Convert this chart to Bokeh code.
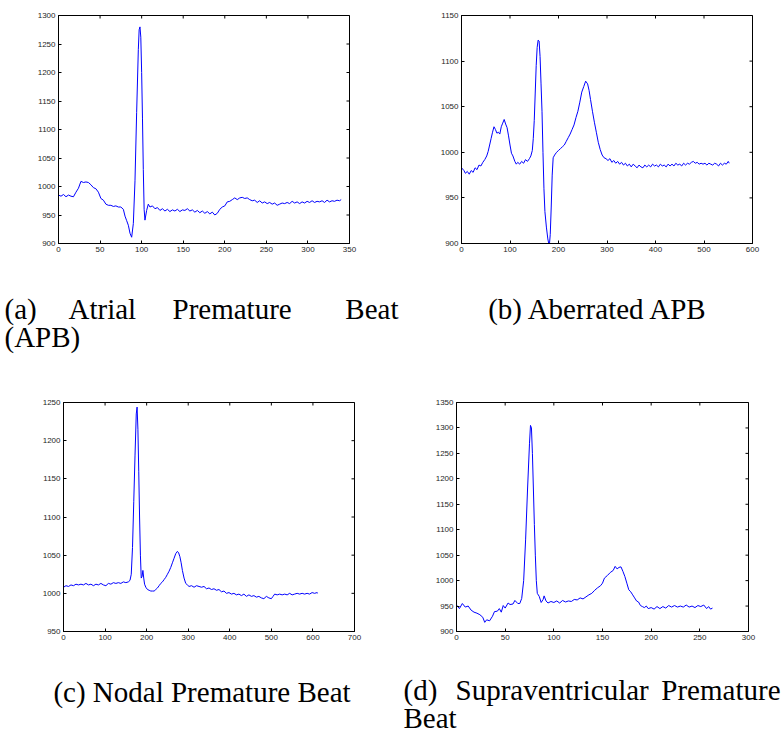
import math
from bokeh.plotting import figure
from bokeh.models import Range1d, FixedTicker
from bokeh.layouts import column, row
from bokeh.embed import file_html
from bokeh.resources import INLINE
from bokeh.core.properties import value

# ---------------- data ----------------
a_x = [0, 3, 6, 9, 12, 15, 18, 21, 24, 27, 30, 33, 36, 39, 42, 45, 48, 51, 54, 57, 60, 63, 66, 69, 72, 75, 78,
       80, 82, 84, 86, 88, 90, 92, 94, 96, 97, 98, 99, 100, 101, 102, 103, 104, 106, 108, 110, 113, 116, 119,
       122, 125, 128, 131, 134, 137, 140, 143, 146, 149, 152, 155, 158, 161, 164, 167, 170, 173, 176, 179, 182,
       185, 188, 191, 194, 197, 200, 203, 206, 209, 212, 215, 218, 221, 224, 227, 230, 233, 236, 239, 242, 245,
       248, 251, 254, 257, 260, 263, 266, 269, 272, 275, 278, 281, 284, 287, 290, 293, 296, 299, 302, 305, 308,
       311, 314, 317, 320, 323, 326, 329, 332, 335, 338, 340]
a_y = [985, 983, 986, 982, 985, 983, 982, 990, 997, 1009, 1007, 1008, 1007, 1003, 998, 996, 990, 979, 976, 969,
       967, 967, 965, 966, 964, 964, 960, 948, 940, 932, 918, 911, 935, 1010, 1130, 1240, 1275, 1280, 1262,
       1200, 1120, 1030, 960, 941, 958, 969, 964, 966, 961, 963, 958, 961, 957, 960, 956, 959, 957, 960, 956,
       959, 958, 961, 957, 959, 955, 958, 954, 957, 953, 956, 952, 955, 950, 953, 960, 964, 966, 973, 974, 977,
       980, 977, 980, 981, 979, 980, 977, 975, 976, 972, 975, 971, 973, 970, 972, 969, 971, 967, 969, 971, 970,
       972, 970, 974, 971, 973, 970, 973, 971, 974, 972, 975, 972, 974, 973, 975, 972, 976, 973, 975, 974, 976,
       975, 977]

b_x = [0, 5, 8, 12, 16, 20, 24, 28, 32, 36, 40, 44, 48, 52, 55, 58, 61, 64, 67, 70, 73, 76, 79, 82, 85, 88, 91,
       94, 97, 100, 103, 106, 110, 113, 116, 120, 124, 128, 132, 136, 140, 143, 146, 148, 150, 152, 154, 156,
       158, 160, 162, 164, 166, 168, 170, 172, 175, 178, 181, 183, 185, 187, 189, 192, 196, 200, 204, 208, 212,
       216, 220, 224, 228, 232, 236, 240, 244, 248, 252, 256, 260, 263, 266, 270, 274, 278, 282, 286, 290, 294,
       298, 302, 306, 310, 314, 318, 322, 326, 330, 334, 338, 342, 346, 350, 354, 358, 362, 366, 370, 374, 378,
       382, 386, 390, 394, 398, 402, 406, 410, 414, 418, 422, 426, 430, 434, 438, 442, 446, 450, 454, 458, 462,
       466, 470, 474, 478, 482, 486, 490, 494, 498, 502, 506, 510, 514, 518, 522, 526, 530, 534, 538, 542, 546,
       550, 552]
b_y = [983, 980, 977, 979, 976, 980, 978, 983, 981, 986, 985, 989, 992, 996, 1001, 1008, 1015, 1022, 1028,
       1025, 1021, 1022, 1020, 1028, 1032, 1036, 1031, 1027, 1018, 1008, 999, 996, 990, 987, 989, 987, 990,
       988, 992, 990, 993, 996, 1002, 1015, 1035, 1065, 1095, 1115, 1123, 1122, 1105, 1075, 1045, 1000, 960,
       935, 918, 905, 897, 910, 940, 975, 994, 997, 1000, 1002, 1004, 1006, 1008, 1012, 1016, 1020, 1025,
       1030, 1038, 1045, 1055, 1066, 1072, 1078, 1075, 1068, 1058, 1045, 1033, 1022, 1011, 1003, 997, 994,
       993, 991, 993, 989, 991, 988, 990, 987, 989, 986, 988, 985, 987, 984, 987, 985, 983, 986, 984, 983,
       986, 984, 986, 984, 987, 985, 986, 984, 987, 985, 986, 984, 987, 985, 987, 985, 988, 986, 987, 985,
       988, 986, 988, 987, 989, 990, 988, 989, 987, 988, 987, 988, 986, 988, 987, 986, 988, 987, 985, 988,
       986, 988, 987, 990, 988]

c_x = [0, 6, 12, 18, 24, 30, 36, 42, 48, 54, 60, 66, 72, 78, 84, 90, 96, 102, 108, 114, 120, 126, 132, 138,
       144, 150, 156, 160, 163, 166, 169, 172, 175, 177, 179, 181, 183, 185, 187, 189, 191, 193, 195, 198, 202,
       206, 210, 214, 218, 222, 226, 230, 234, 238, 242, 246, 250, 254, 258, 262, 266, 270, 274, 277, 280, 283,
       286, 290, 294, 298, 302, 308, 314, 320, 326, 332, 338, 344, 350, 356, 362, 368, 374, 380, 386, 392, 398,
       404, 410, 416, 422, 428, 434, 440, 446, 452, 458, 464, 470, 476, 482, 488, 494, 500, 504, 508, 514, 520,
       526, 532, 538, 544, 550, 556, 562, 568, 574, 580, 586, 592, 598, 604, 610, 612]
c_y = [1008, 1010, 1009, 1011, 1010, 1012, 1011, 1012, 1011, 1013, 1011, 1012, 1010, 1012, 1011, 1013, 1011,
       1010, 1013, 1012, 1014, 1013, 1014, 1013, 1015, 1014, 1015, 1017, 1025, 1060, 1120, 1180, 1235, 1244,
       1215, 1160, 1100, 1050, 1020, 1022, 1030, 1020, 1012, 1008, 1005, 1004, 1003, 1003, 1003, 1005, 1007,
       1010, 1013, 1015, 1018, 1021, 1025, 1029, 1034, 1040, 1046, 1052, 1055, 1053, 1048, 1040, 1030, 1020,
       1013, 1011, 1009, 1010, 1008, 1010, 1009, 1008, 1009, 1006, 1007, 1005, 1006, 1004, 1005, 1002, 1003,
       1000, 1001, 999, 1000, 998, 999, 997, 999, 996, 998, 996, 997, 995, 996, 994, 993, 996, 994, 993, 996,
       999, 998, 999, 998, 999, 998, 1000, 998, 999, 1000, 999, 1000, 999, 1000, 999, 1001, 1000, 1001, 1000]

d_x = [0, 3, 6, 9, 12, 15, 18, 21, 24, 27, 29, 31, 34, 37, 39, 42, 44, 46, 48, 50, 53, 55, 58, 60, 63, 65, 67,
       69, 71, 73, 75, 76, 77, 78, 79, 80, 81, 82, 83, 85, 87, 89, 90, 92, 94, 97, 100, 103, 106, 109, 112, 115,
       118, 121, 124, 127, 130, 133, 136, 139, 142, 145, 148, 150, 152, 155, 158, 161, 163, 165, 167, 169, 171,
       173, 175, 177, 179, 181, 183, 185, 187, 189, 191, 193, 195, 197, 200, 203, 206, 209, 212, 215, 218, 221,
       224, 227, 230, 233, 236, 239, 242, 245, 248, 251, 254, 257, 259, 261, 263]
d_y = [952, 945, 955, 948, 950, 942, 938, 936, 933, 928, 918, 923, 921, 930, 939, 940, 945, 938, 951, 946, 956,
       953, 954, 961, 955, 955, 965, 1000, 1080, 1180, 1270, 1305, 1300, 1250, 1180, 1110, 1050, 1000, 975,
       969, 957, 963, 970, 960, 956, 959, 957, 960, 956, 961, 958, 960, 959, 963, 962, 966, 964, 968, 972, 975,
       981, 986, 990, 995, 1005, 1010, 1016, 1020, 1028, 1023, 1026, 1027, 1018, 1008, 995, 982, 978, 972, 966,
       960, 958, 951, 949, 947, 950, 945, 947, 944, 949, 945, 949, 946, 951, 948, 951, 948, 950, 948, 952, 948,
       950, 947, 951, 949, 952, 945, 949, 944, 946]

a_xticks = [0, 50, 100, 150, 200, 250, 300, 350]
a_yticks = [900, 950, 1000, 1050, 1100, 1150, 1200, 1250, 1300]
b_xticks = [0, 100, 200, 300, 400, 500, 600]
b_yticks = [900, 950, 1000, 1050, 1100, 1150]
c_xticks = [0, 100, 200, 300, 400, 500, 600, 700]
c_yticks = [950, 1000, 1050, 1100, 1150, 1200, 1250]
d_xticks = [0, 50, 100, 150, 200, 250, 300]
d_yticks = [900, 950, 1000, 1050, 1100, 1150, 1200, 1250, 1300, 1350]

LINE = "#0000ff"
TICK_FONT = "Liberation Sans"
CAP_FONT = "Liberation Serif"
CAP_SIZE = "29px"


def style_axis(ax, ticks):
    ax.ticker = FixedTicker(ticks=ticks)
    ax.major_tick_in = 3
    ax.major_tick_out = 0
    ax.minor_tick_in = 0
    ax.minor_tick_out = 0
    ax.axis_line_color = "black"
    ax.major_tick_line_color = "black"
    ax.major_label_text_font = TICK_FONT
    ax.major_label_text_color = "#262626"
    ax.major_label_text_font_size = "8px"
    ax.major_label_standoff = 3


def panel(xs, ys, xr, yr, xt, yt, width, height, bl, br, bt, bb):
    p = figure(width=width, height=height, x_range=Range1d(*xr), y_range=Range1d(*yr),
               output_backend="svg", toolbar_location=None,
               min_border_left=bl, min_border_right=br, min_border_top=bt, min_border_bottom=bb)
    p.grid.visible = False
    p.outline_line_color = "black"
    p.outline_line_alpha = 1
    style_axis(p.xaxis[0], xt)
    style_axis(p.yaxis[0], yt)
    # inward ticks on the top and right edges of the box (half of each dash is clipped by the frame)
    p.scatter(xt, [yr[1]] * len(xt), marker="dash", size=6, angle=math.pi / 2,
              line_color="black", line_width=1)
    p.scatter([xr[1]] * len(yt), yt, marker="dash", size=6, angle=0,
              line_color="black", line_width=1)
    p.line(xs, ys, line_color=LINE, line_width=1)
    return p


pa = panel(a_x, a_y, (0, 350), (900, 1300), a_xticks, a_yticks, 400, 260, 58, 51, 15, 17)
pb = panel(b_x, b_y, (0, 600), (900, 1150), b_xticks, b_yticks, 381, 260, 61, 29, 15, 17)
pc = panel(c_x, c_y, (0, 700), (950, 1250), c_xticks, c_yticks, 400, 258, 63, 46, 12, 17)
pd = panel(d_x, d_y, (0, 300), (900, 1350), d_xticks, d_yticks, 381, 258, 56, 33, 12, 17)


def caption_fig(height):
    p = figure(width=781, height=height, x_range=Range1d(0, 781), y_range=Range1d(height, 0),
               output_backend="svg", toolbar_location=None, min_border=0,
               x_axis_location=None, y_axis_location=None)
    p.grid.visible = False
    p.outline_line_color = None
    return p


def words(p, xs, ys, texts, align):
    p.text(x=xs, y=ys, text=texts, text_font=value(CAP_FONT), text_font_size=CAP_SIZE,
           text_color="black", text_align=align, text_baseline="middle")


cap1 = caption_fig(130)
words(cap1, [4, 68, 172, 4], [48, 48, 48, 76], ["(a)", "Atrial", "Premature", "(APB)"], "left")
words(cap1, [398], [48], ["Beat"], "right")
words(cap1, [598], [48], ["(b) Aberrated APB"], "center")

cap2 = caption_fig(86)
words(cap2, [201.5], [43], ["(c) Nodal Premature Beat"], "center")
words(cap2, [403, 455, 403], [41, 41, 69], ["(d)", "Supraventricular", "Beat"], "left")
words(cap2, [780], [41], ["Premature"], "right")

layout = column(row(pa, pb), cap1, row(pc, pd), cap2)

open("out.html", "w").write(file_html(layout, INLINE))
